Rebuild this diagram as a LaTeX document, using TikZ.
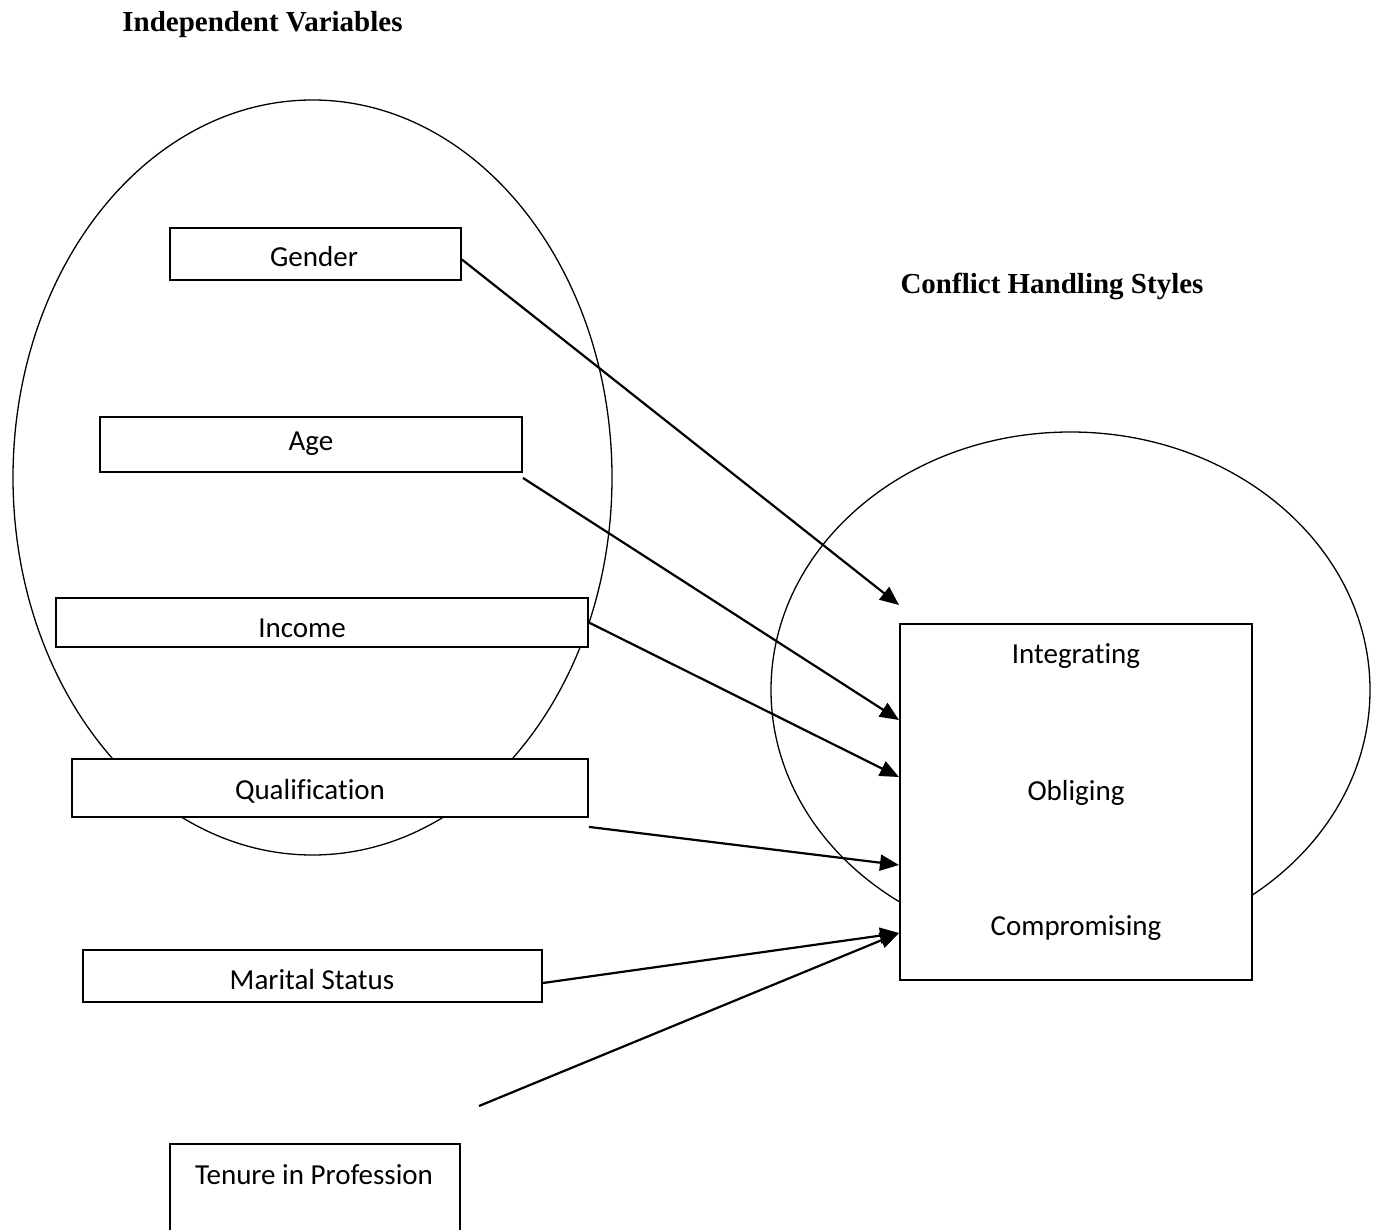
\documentclass[tikz,border=0pt]{standalone}
\usepackage{fontspec}
\setmainfont{Carlito}[Ligatures=NoCommon]
\newfontfamily\timesfont{Liberation Serif}
\usetikzlibrary{arrows.meta,positioning}

\begin{document}
\begin{tikzpicture}[x=1pt,y=-1pt,
    varbox/.style={draw, line width=1.8pt, fill=white, rectangle, inner sep=0pt},
    vartext/.style={anchor=base, inner sep=0pt, font=\fontsize{29}{34}\selectfont},
    heading/.style={anchor=base, inner sep=0pt, font=\timesfont\bfseries\fontsize{29}{34}\selectfont},
    group/.style={draw, line width=1.3pt},
    link/.style={line width=2.2pt, -{Triangle[length=19pt,width=16pt]}}]
    \clip (0,0) rectangle (1377,1230);

    % Groups
    \draw[group] (312.5,477.5) ellipse [x radius=299.5, y radius=377.5];
    \draw[group] (1070.5,690) ellipse [x radius=299.5, y radius=258];

    \node[heading] (indepTitle) at (262.5,32) {Independent Variables};
    \node[heading] (styleTitle) at (1052,294) {Conflict Handling Styles};

    % Independent variables
    \node[varbox, minimum width=291pt, minimum height=52pt] (gender) at (315.5,254) {};
    \node[varbox, minimum width=422pt, minimum height=55pt] (age) at (311,444.5) {};
    \node[varbox, minimum width=532pt, minimum height=49pt] (income) at (322,622.5) {};
    \node[varbox, minimum width=516pt, minimum height=58pt] (qualification) at (330,788) {};
    \node[varbox, minimum width=459pt, minimum height=52pt] (marital) at (312.5,976) {};
    \node[varbox, minimum width=290pt, minimum height=106pt] (tenure) at (315,1197) {};

    \node[vartext] (genderText) at (314,267) {Gender};
    \node[vartext] (ageText) at (311,451) {Age};
    \node[vartext] (incomeText) at (302,637) {Income};
    \node[vartext] (qualificationText) at (310,799) {Qualification};
    \node[vartext] (maritalText) at (312,989) {Marital Status};
    \node[vartext] (tenureText) at (314,1184) {Tenure in Profession};

    % Conflict handling styles
    \node[varbox, minimum width=352pt, minimum height=356pt] (styles) at (1076,802) {};
    \node[vartext] (integrating) at (1076,663) {Integrating};
    \node[vartext] (obliging) at (1076,800) {Obliging};
    \node[vartext] (compromising) at (1076,935) {Compromising};

    \coordinate (inGender) at (899,605);
    \coordinate (inAge) at (899,720);
    \coordinate (inIncome) at (899,777);
    \coordinate (inQualification) at (899,865);
    \coordinate (inMarital) at (899,933);
    \coordinate (tenureTail) at (479,1106);

    % Links
    \draw[link] ([yshift=-5.5pt]gender.east) -- (inGender);
    \draw[link] ([yshift=-5pt]age.south east) -- (inAge);
    \draw[link] (income.east) -- (inIncome);
    \draw[link] ([yshift=-9pt]qualification.south east) -- (inQualification);
    \draw[link] ([yshift=-7pt]marital.east) -- (inMarital);
    \draw[link] (tenureTail) -- (inMarital);
\end{tikzpicture}
\end{document}
